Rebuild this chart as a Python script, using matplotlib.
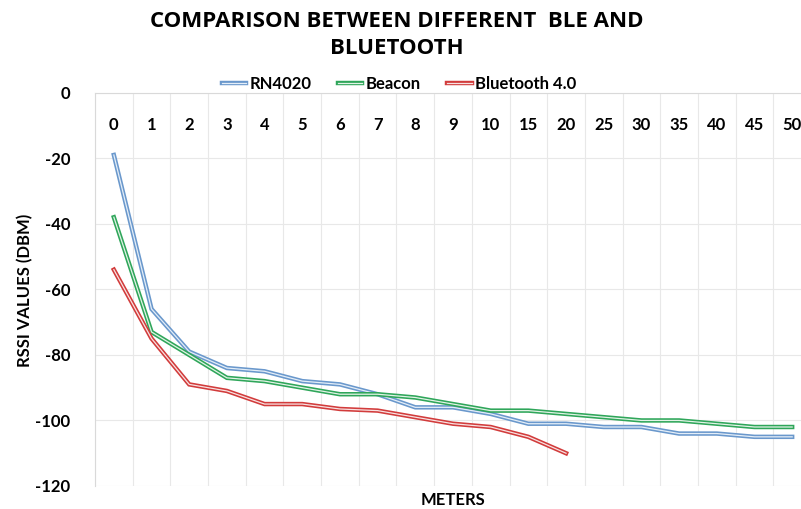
import matplotlib
matplotlib.use('Agg')
import matplotlib.pyplot as plt
import matplotlib.patheffects as pe
import numpy as np

# 距离类别（米）
meters = ['0', '1', '2', '3', '4', '5', '6', '7', '8', '9', '10',
          '15', '20', '25', '30', '35', '40', '45', '50']

# RSSI 数值 (dBm)
rn4020 = [-19, -66, -79, -84, -85, -88, -89, -92, -96, -96, -98,
          -101, -101, -102, -102, -104, -104, -105, -105]
beacon = [-38, -73, -80, -87, -88, -90, -92, -92, -93, -95, -97,
          -97, -98, -99, -100, -100, -101, -102, -102]
bt40 = [-54, -75, -89, -91, -95, -95, -96.5, -97, -99, -101, -102,
        -105, -110]

series = [('RN4020', rn4020, '#6a98cc', '#e4eef8'),
          ('Beacon', beacon, '#2fa65a', '#e2f3e6'),
          ('Bluetooth 4.0', bt40, '#d23c3c', '#f8e2e2')]

fig = plt.figure(figsize=(8.01, 5.09), dpi=100)
ax = fig.add_axes([95 / 801, 1 - 486 / 509, 716 / 801, 393.3 / 509])

x = np.arange(len(meters))
for name, vals, edge, inner in series:
    ax.plot(x[:len(vals)], vals, color=inner, lw=0.9, label=name,
            solid_joinstyle='miter',
            path_effects=[pe.Stroke(linewidth=3.2, foreground=edge), pe.Normal()])

ax.set_xlim(-0.5, len(meters) - 0.5)
ax.set_ylim(-120, 0)
ax.set_yticks(np.arange(-120, 1, 20))
ax.set_yticklabels([str(v) for v in range(-120, 1, 20)])

## 类别标签放在顶部（0 线）下方
ax.xaxis.tick_top()
ax.set_xticks(x)
ax.set_xticklabels(meters)
ax.set_xticks(np.arange(-0.5, len(meters), 1), minor=True)
ax.tick_params(axis='x', which='both', length=0, pad=-29)
ax.tick_params(axis='y', length=0, pad=18)
for lab in ax.get_xticklabels() + ax.get_yticklabels():
    lab.set_fontfamily('Lato')
    lab.set_fontweight('bold')
    lab.set_fontsize(12)

ax.grid(axis='x', which='minor', color='#e8e8e8', lw=0.8)
ax.grid(axis='y', which='major', color='#e8e8e8', lw=0.8)
ax.set_axisbelow(True)
for s in ['right', 'bottom']:
    ax.spines[s].set_visible(False)
ax.spines['top'].set_color('#d9d9d9')
ax.spines['left'].set_color('#d9d9d9')

fig.text(397 / 801, 1 - 11 / 509, 'COMPARISON BETWEEN DIFFERENT  BLE AND\nBLUETOOTH',
         ha='center', va='top', fontsize=16, fontweight='bold',
         family='Open Sans', linespacing=1.38)

fig.legend(loc='center', bbox_to_anchor=(399 / 801, 1 - 84 / 509), ncol=3,
           frameon=False, handlelength=1.45, handletextpad=0.2, columnspacing=1.6,
           prop={'family': 'Lato', 'weight': 'bold', 'size': 12})

fig.text(25 / 801, 1 - 290 / 509, 'RSSI VALUES (DBM)', rotation=90,
         ha='center', va='center', fontsize=12, fontweight='bold', family='Lato')
fig.text(453 / 801, 1 - 500 / 509, 'METERS', ha='center', va='center',
         fontsize=12, fontweight='bold', family='Lato')

fig.savefig('out.png', dpi=100)
